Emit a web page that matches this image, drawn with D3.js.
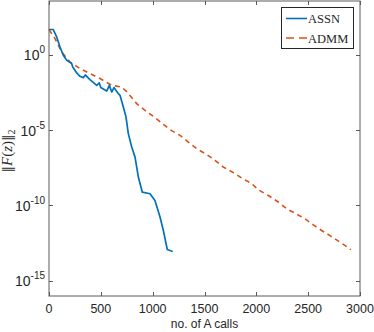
<!DOCTYPE html>
<html>
<head>
<meta charset="utf-8">
<script src="https://cdn.jsdelivr.net/npm/d3@7"></script>
<style>
  body { margin: 0; background: #fff; }
  svg { display: block; }
</style>
</head>
<body>
<svg id="chart"></svg>
<script>
// values
let assnCalls = [0, 41, 74, 106, 138, 171, 219, 229, 267, 299, 331, 350, 395, 460, 485, 499, 557, 582, 605, 627, 669, 685, 717, 743, 765, 798, 830, 862, 900, 974, 1022, 1071, 1103, 1141, 1193];
let assnRes = [45.7, 45.7, 14.8, 3.16, 0.891, 0.417, 0.251, 0.151, 0.0603, 0.0363, 0.0295, 0.0447, 0.0219, 0.00912, 0.0132, 0.00646, 0.0038, 0.00912, 0.00331, 0.00646, 0.00257, 0.002, 3.3e-4, 7.2e-5, 5.8e-6, 7.4e-7, 1.6e-7, 7.6e-9, 7.6e-10, 6.0e-10, 2.1e-10, 1.7e-11, 2.2e-12, 1.2e-13, 8.9e-14];

let admmCalls = [0, 58, 122, 203, 299, 395, 492, 605, 701, 749, 846, 926, 1006, 1087, 1167, 1264, 1344, 1425, 1521, 1601, 1681, 1778, 1859, 1955, 2019, 2115, 2212, 2293, 2373, 2470, 2550, 2630, 2711, 2807, 2904, 2910];
let admmRes = [45.7, 11.5, 1.48, 0.324, 0.117, 0.055, 0.0257, 0.00912, 0.00708, 0.00355, 5.6e-4, 2.0e-4, 8.1e-5, 2.9e-5, 1.05e-5, 4.4e-6, 1.6e-6, 5.8e-7, 2.4e-7, 9.8e-8, 3.5e-8, 1.5e-8, 6.5e-9, 2.8e-9, 1.1e-9, 4.6e-10, 1.7e-10, 6.0e-11, 3.1e-11, 1.3e-11, 5.2e-12, 2.2e-12, 1.0e-12, 3.7e-13, 1.35e-13, 1.15e-13];

let xTicks = [0, 500, 1000, 1500, 2000, 2500, 3000];
let yTickExp = [0, -5, -10, -15];
let seriesNames = ["ASSN", "ADMM"];

let svgWidth = 374, svgHeight = 332;
let plotLeft = 49, plotRight = 360, plotTop = 1, plotBottom = 296;
let axisColor = "#5a5a5a", textColor = "#262626";

let svg = d3.select("#chart")
    .attr("width", svgWidth)
    .attr("height", svgHeight);

let x = d3.scaleLinear().domain([0, 3000]).range([plotLeft, plotRight]);
let y = d3.scaleLog().domain([1e-16, Math.pow(10, 3.55)]).range([plotBottom, plotTop]);

// box
svg.append("rect")
    .attr("x", plotLeft).attr("y", plotTop)
    .attr("width", plotRight - plotLeft).attr("height", plotBottom - plotTop)
    .attr("fill", "none")
    .attr("stroke", axisColor)
    .attr("stroke-width", 1);

// ticks, inward on all four sides
let tickLen = 4;
let ticks = svg.append("g").attr("stroke", axisColor).attr("stroke-width", 1);
xTicks.forEach(function (t) {
    let px = Math.round(x(t)) + 0.5;
    ticks.append("line").attr("x1", px).attr("x2", px).attr("y1", plotBottom).attr("y2", plotBottom - tickLen);
    ticks.append("line").attr("x1", px).attr("x2", px).attr("y1", plotTop).attr("y2", plotTop + tickLen);
});
yTickExp.forEach(function (e) {
    let py = Math.round(y(Math.pow(10, e))) + 0.5;
    ticks.append("line").attr("x1", plotLeft).attr("x2", plotLeft + tickLen).attr("y1", py).attr("y2", py);
    ticks.append("line").attr("x1", plotRight).attr("x2", plotRight - tickLen).attr("y1", py).attr("y2", py);
});

// x tick labels
svg.append("g")
    .selectAll("text")
    .data(xTicks)
    .enter()
    .append("text")
    .attr("x", function (d) { return x(d); })
    .attr("y", plotBottom + 16.5)
    .attr("text-anchor", "middle")
    .attr("font-family", "Liberation Sans, Arial, sans-serif")
    .attr("font-size", 12.5)
    .attr("fill", textColor)
    .text(function (d) { return d; });

// y tick labels 10^e
let yl = svg.append("g")
    .selectAll("text")
    .data(yTickExp)
    .enter()
    .append("text")
    .attr("x", 45)
    .attr("y", function (d) { return y(Math.pow(10, d)) + 5.5; })
    .attr("text-anchor", "end")
    .attr("font-family", "Liberation Sans, Arial, sans-serif")
    .attr("font-size", 14)
    .attr("fill", textColor);
yl.append("tspan").text("10");
yl.append("tspan")
    .attr("font-size", 10)
    .attr("dy", -7)
    .text(function (d) { return d === 0 ? "0" : "-" + Math.abs(d); });

// axis labels
svg.append("text")
    .attr("x", (plotLeft + plotRight) / 2)
    .attr("y", 327.5)
    .attr("text-anchor", "middle")
    .attr("font-family", "Liberation Sans, Arial, sans-serif")
    .attr("font-size", 12)
    .attr("fill", textColor)
    .text("no. of A calls");

let ylab = svg.append("text")
    .attr("transform", "translate(12,151) rotate(-90)")
    .attr("text-anchor", "middle")
    .attr("font-family", "Liberation Serif, Times New Roman, serif")
    .attr("font-size", 15)
    .attr("fill", textColor);
ylab.append("tspan").attr("font-family", "DejaVu Serif").attr("font-size", 13).text("\u2016");
ylab.append("tspan").attr("font-style", "italic").text("F");
ylab.append("tspan").text("(");
ylab.append("tspan").attr("font-style", "italic").text("z");
ylab.append("tspan").text(")");
ylab.append("tspan").attr("font-family", "DejaVu Serif").attr("font-size", 13).text("\u2016");
ylab.append("tspan").attr("font-size", 10).attr("dy", 3).text("2");

// lines
let line = d3.line()
    .x(function (d) { return x(d[0]); })
    .y(function (d) { return y(d[1]); });

let plot = svg.append("g");

plot.append("path")
    .datum(d3.zip(admmCalls, admmRes))
    .attr("d", line)
    .attr("fill", "none")
    .attr("stroke", "#D95319")
    .attr("stroke-width", 1.6)
    .attr("stroke-dasharray", "5,4");

plot.append("path")
    .datum(d3.zip(assnCalls, assnRes))
    .attr("d", line)
    .attr("fill", "none")
    .attr("stroke", "#0072BD")
    .attr("stroke-width", 1.7)
    .attr("stroke-linejoin", "round");

// legend
let legend = svg.append("g");
legend.append("rect")
    .attr("x", 281.5).attr("y", 7.5)
    .attr("width", 72).attr("height", 41)
    .attr("fill", "#fff")
    .attr("stroke", "#262626")
    .attr("stroke-width", 1);

let legendColors = ["#0072BD", "#D95319"];
let legendDash = [null, "8,5"];
seriesNames.forEach(function (name, i) {
    let ly = 18.5 + i * 19.5;
    legend.append("line")
        .attr("x1", 286).attr("x2", 307)
        .attr("y1", ly).attr("y2", ly)
        .attr("stroke", legendColors[i])
        .attr("stroke-width", 1.6)
        .attr("stroke-dasharray", legendDash[i]);
    legend.append("text")
        .attr("x", 308)
        .attr("y", ly + 4.5)
        .attr("font-family", "Liberation Serif, Times New Roman, serif")
        .attr("font-size", 12.5)
        .attr("fill", textColor)
        .text(name);
});
</script>
</body>
</html>
